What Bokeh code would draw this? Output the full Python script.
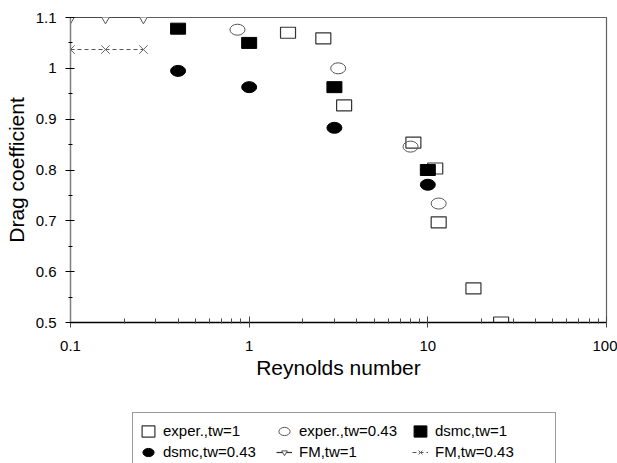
from bokeh.plotting import figure
from bokeh.layouts import column
from bokeh.models import (Legend, LegendItem, FixedTicker, CustomJSTickFormatter, Range1d)
from bokeh.embed import file_html
from bokeh.resources import INLINE

# ---- data ----
exp1_re = [1.65, 2.6, 3.4, 8.3, 11.0, 11.5, 18.0, 25.7]
exp1_cd = [1.070, 1.059, 0.927, 0.854, 0.803, 0.697, 0.567, 0.500]

exp043_re = [0.86, 3.15, 8.0, 11.5]
exp043_cd = [1.076, 1.000, 0.846, 0.734]

dsmc1_re = [0.4, 1.0, 3.0, 10.0]
dsmc1_cd = [1.078, 1.050, 0.963, 0.800]

dsmc043_re = [0.4, 1.0, 3.0, 10.0]
dsmc043_cd = [0.995, 0.963, 0.883, 0.771]

fm_re = [0.1, 0.157, 0.256]
fm1_cd = [1.1, 1.1, 1.1]
fm043_cd = [1.037, 1.037, 1.037]

labels = ["exper.,tw=1", "exper.,tw=0.43", "dsmc,tw=1",
          "dsmc,tw=0.43", "FM,tw=1", "FM,tw=0.43"]

x_ticks = [0.1, 1, 10, 100]
x_minor = [m * d for d in [0.1, 1, 10] for m in range(2, 10)]
y_ticks = [0.5, 0.6, 0.7, 0.8, 0.9, 1.0, 1.1]
y_minor = [0.55, 0.65, 0.75, 0.85, 0.95, 1.05]

FONT = "Liberation Sans"


def add_series(fig):
    r1 = fig.rect(exp1_re, exp1_cd, width=15, height=11,
                  width_units="screen", height_units="screen",
                  fill_color=None, line_color="#333333", line_width=1.2)
    r2 = fig.ellipse(exp043_re, exp043_cd, width=15, height=11,
                     width_units="screen", height_units="screen",
                     fill_color=None, line_color="#555555", line_width=1.0)
    r3 = fig.rect(dsmc1_re, dsmc1_cd, width=15, height=11,
                  width_units="screen", height_units="screen",
                  fill_color="black", line_color="black")
    r4 = fig.ellipse(dsmc043_re, dsmc043_cd, width=15, height=11,
                     width_units="screen", height_units="screen",
                     fill_color="black", line_color="black")
    r5a = fig.line(fm_re, fm1_cd, line_color="#333333", line_width=1.2)
    r5b = fig.scatter(fm_re, fm1_cd, marker="inverted_triangle", size=11,
                      fill_color="white", line_color="#555555", line_width=1.0)
    r6a = fig.line(fm_re, fm043_cd, line_color="#555555", line_width=1.0,
                   line_dash="4 3")
    r6b = fig.scatter(fm_re, fm043_cd, marker="x", size=12,
                      line_color="#666666", line_width=1.0)
    return [[r1], [r2], [r3], [r4], [r5a, r5b], [r6a, r6b]]


# ---- main plot ----
p = figure(width=617, height=400, x_axis_type="log",
           x_range=Range1d(0.1, 100), y_range=Range1d(0.5, 1.1),
           output_backend="svg", toolbar_location=None,
           min_border_left=70, min_border_right=11,
           min_border_top=17, min_border_bottom=78)

p.xgrid.visible = False
p.ygrid.visible = False
p.outline_line_color = "#606060"
p.outline_line_width = 1.2

fmt = CustomJSTickFormatter(code="return tick.toString();")

p.xaxis.ticker = FixedTicker(ticks=x_ticks, minor_ticks=x_minor)
p.xaxis.formatter = fmt
p.yaxis.ticker = FixedTicker(ticks=y_ticks, minor_ticks=y_minor)
p.yaxis.formatter = fmt

p.xaxis.axis_label = "Reynolds number"
p.yaxis.axis_label = "Drag coefficient"
for ax in (p.xaxis, p.yaxis):
    ax.axis_label_text_font = FONT
    ax.axis_label_text_font_size = "21px"
    ax.axis_label_text_font_style = "normal"
    ax.axis_label_text_color = "black"
    ax.major_label_text_font = FONT
    ax.major_label_text_font_size = "15px"
    ax.major_label_text_color = "black"

p.xaxis.axis_line_color = "black"
p.xaxis.axis_line_width = 1.3
p.xaxis.major_tick_in = 6
p.xaxis.major_tick_out = 5
p.xaxis.minor_tick_in = 4
p.xaxis.minor_tick_out = 1
p.xaxis.major_tick_line_color = "#444"
p.xaxis.minor_tick_line_color = "#444"
p.xaxis.major_label_standoff = 13
p.xaxis.axis_label_standoff = 2

p.yaxis.axis_line_color = "#808080"
p.yaxis.axis_line_width = 1.3
p.yaxis.major_tick_in = 4
p.yaxis.major_tick_out = 5
p.yaxis.minor_tick_in = 2
p.yaxis.minor_tick_out = 2
p.yaxis.major_label_standoff = 9
p.yaxis.axis_label_standoff = 5

add_series(p)

# ---- legend strip (series drawn outside its visible range; only the key shows) ----
q = figure(width=617, height=63, x_axis_type="log",
           x_range=Range1d(0.1, 100), y_range=Range1d(2, 3),
           output_backend="svg", toolbar_location=None,
           x_axis_location=None, y_axis_location=None, min_border=0)
q.xgrid.visible = False
q.ygrid.visible = False
q.outline_line_color = None

rs = add_series(q)
legend = Legend(items=[LegendItem(label=l, renderers=r) for l, r in zip(labels, rs)],
                orientation="horizontal", ncols=3, location=(62, -7))
legend.label_text_font = FONT
legend.label_text_font_size = "15px"
legend.label_text_color = "black"
legend.glyph_width = 16
legend.glyph_height = 14
legend.label_height = 21
legend.label_width = 113
legend.label_standoff = 7
legend.spacing = 0
legend.padding = 7
legend.margin = 0
legend.border_line_color = "#333333"
legend.border_line_width = 1
legend.background_fill_color = "white"
legend.background_fill_alpha = 1.0
q.add_layout(legend, "center")

layout = column(p, q, spacing=0)
open("out.html", "w").write(file_html(layout, INLINE))
